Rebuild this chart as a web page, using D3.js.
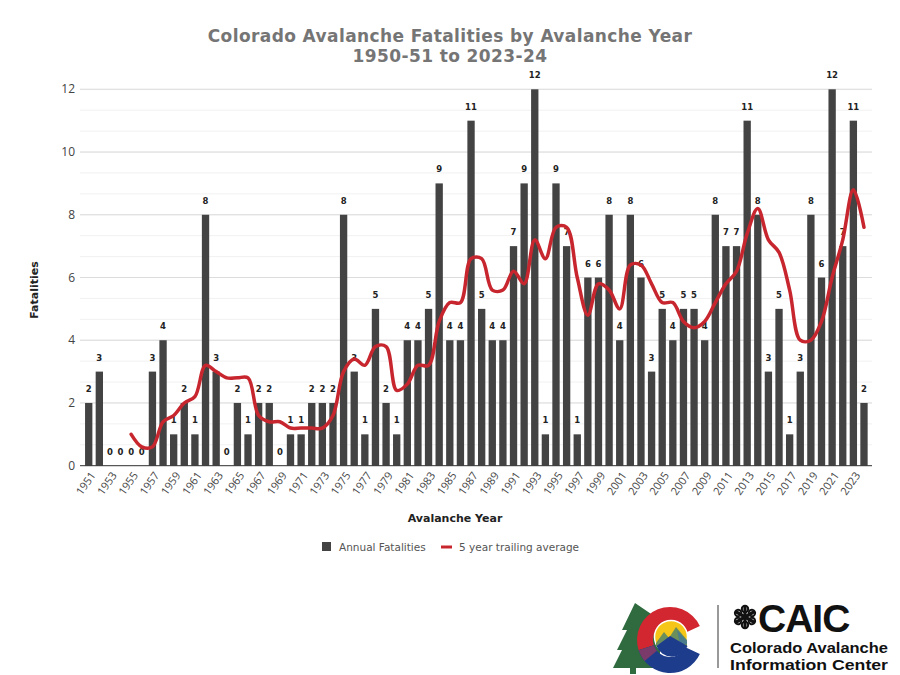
<!DOCTYPE html>
<html><head><meta charset="utf-8">
<script src="https://cdn.jsdelivr.net/npm/d3@7"></script>
<style>body{margin:0;background:#fff;} svg{display:block;}</style>
</head><body>
<svg id="chart" width="900" height="675"></svg>
<script>
const years = d3.range(1951, 2025);
const fatalities = [2,3,0,0,0,0,3,4,1,2,1,8,3,0,2,1,2,2,0,1,1,2,2,2,8,3,1,5,2,1,4,4,5,9,4,4,11,5,4,4,7,9,12,1,9,7,1,6,6,8,4,8,6,3,5,4,5,5,4,8,7,7,11,8,3,5,1,3,8,6,12,7,11,2];
const avgYears = d3.range(1955, 2025);
const trailingAvg = [1.0,0.6,0.6,1.4,1.6,2.0,2.2,3.2,3.0,2.8,2.8,2.8,1.6,1.4,1.4,1.2,1.2,1.2,1.2,1.6,3.0,3.4,3.2,3.8,3.8,2.4,2.6,3.2,3.2,4.6,5.2,5.2,6.6,6.6,5.6,5.6,6.2,5.8,7.2,6.6,7.6,7.6,6.0,4.8,5.8,5.6,5.0,6.4,6.4,5.8,5.2,5.2,4.6,4.4,4.6,5.2,5.8,6.2,7.4,8.2,7.2,6.8,5.6,4.0,4.0,4.6,6.0,7.2,8.8,7.6];
const yTicks = [0,2,4,6,8,10,12];
const titleLines = ["Colorado Avalanche Fatalities by Avalanche Year","1950-51 to 2023-24"];
const legendLabels = ["Annual Fatalities","5 year trailing average"];

const svg = d3.select("#chart");
const font = "'DejaVu Sans', Verdana, sans-serif";
const tickFont = "'Open Sans', 'DejaVu Sans', sans-serif";
const L = 80, R = 872, T = 89.3, B = 465.7;

const x = d3.scaleBand().domain(years).range([83.4, 869.3]).paddingInner(0.31).paddingOuter(0.155);
const y = d3.scaleLinear().domain([0,12]).range([B, T]);

// minor gridlines
const minor = d3.range(0, 12.001, 2/3);
svg.append("g").selectAll("line").data(minor).join("line")
  .attr("x1", L).attr("x2", R).attr("y1", d=>y(d)).attr("y2", d=>y(d))
  .attr("stroke", "#f1f1f1").attr("stroke-width", 1);
// major gridlines
svg.append("g").selectAll("line").data(yTicks.slice(1)).join("line")
  .attr("x1", L).attr("x2", R).attr("y1", d=>y(d)).attr("y2", d=>y(d))
  .attr("stroke", "#dcdcdc").attr("stroke-width", 1);

// y axis labels
svg.append("g").selectAll("text").data(yTicks).join("text")
  .attr("x", 75).attr("y", d=>y(d)+4).attr("text-anchor","end")
  .attr("font-family", tickFont).attr("font-size", 12).attr("fill", "#444").text(d=>d);

// bars
svg.append("g").selectAll("rect").data(years).join("rect")
  .attr("x", d=>x(d)).attr("width", x.bandwidth())
  .attr("y", (d,i)=>y(fatalities[i])).attr("height", (d,i)=>B - y(fatalities[i]))
  .attr("fill", "#434343");

// baseline
svg.append("line").attr("x1", L).attr("x2", R).attr("y1", B).attr("y2", B)
  .attr("stroke", "#333").attr("stroke-width", 1);

// value labels
svg.append("g").selectAll("text").data(years).join("text")
  .attr("x", d=>x(d)+x.bandwidth()/2).attr("y", (d,i)=>y(fatalities[i]) - 11)
  .attr("text-anchor","middle").attr("font-family", font).attr("font-weight","bold")
  .attr("font-size", 8.5).attr("fill", "#222").text((d,i)=>fatalities[i]);

// trailing average line
const line = d3.line().x((d,i)=>x(avgYears[i])+x.bandwidth()/2).y(d=>y(d)).curve(d3.curveCatmullRom.alpha(0.5));
svg.append("path").datum(trailingAvg).attr("d", line)
  .attr("fill","none").attr("stroke","#c8262e").attr("stroke-width",3.5)
  .attr("stroke-linejoin","round").attr("stroke-linecap","round");

// x tick labels (every other year)
svg.append("g").selectAll("text").data(years.filter((d,i)=>i%2===0)).join("text")
  .attr("transform", d=>`translate(${x(d)+x.bandwidth()/2+5},${B+8}) rotate(-55)`)
  .attr("text-anchor","end").attr("dominant-baseline","middle")
  .attr("font-family", tickFont).attr("font-size", 11).attr("fill", "#444").text(d=>d);

// axis titles
svg.append("text").attr("x", 455).attr("y", 522).attr("text-anchor","middle")
  .attr("font-family", font).attr("font-weight","bold").attr("font-size", 11).attr("fill","#222")
  .text("Avalanche Year");
svg.append("text").attr("transform","translate(38,290) rotate(-90)").attr("text-anchor","middle")
  .attr("font-family", font).attr("font-weight","bold").attr("font-size", 11).attr("fill","#222")
  .text("Fatalities");

// title
svg.append("g").selectAll("text").data(titleLines).join("text")
  .attr("x", 450).attr("y", (d,i)=>42 + i*19.5).attr("text-anchor","middle")
  .attr("font-family", font).attr("font-weight","bold").attr("font-size", 17).attr("letter-spacing", 0.4).attr("fill","#757575")
  .text(d=>d);

// legend
const lg = svg.append("g");
lg.append("rect").attr("x", 322).attr("y", 542).attr("width", 9).attr("height", 9).attr("fill", "#434343");
lg.append("text").attr("x", 339).attr("y", 551).attr("font-family", font).attr("font-size", 10.5).attr("fill","#555").text(legendLabels[0]);
lg.append("line").attr("x1", 441).attr("x2", 452).attr("y1", 547).attr("y2", 547).attr("stroke","#c8262e").attr("stroke-width",3);
lg.append("text").attr("x", 459).attr("y", 551).attr("font-family", font).attr("font-size", 10.5).attr("fill","#555").text(legendLabels[1]);

// logo
const logo = svg.append("g");
// tree
logo.append("path").attr("d","M635,603 L622,630 L627,630 L617,650 L622,650 L613,668 L660,668 L660,620 Z").attr("fill","#2f6b3f");
logo.append("rect").attr("x",630).attr("y",666).attr("width",6).attr("height",8).attr("fill","#2f6b3f");
// C ring
const arc = d3.arc();
const cC = "translate(670,640)";
logo.append("path").attr("transform",cC)
  .attr("d", arc({innerRadius:17, outerRadius:33, startAngle:0.36*Math.PI, endAngle:-0.6*Math.PI})).attr("fill","#d22630");
logo.append("path").attr("transform",cC)
  .attr("d", arc({innerRadius:17, outerRadius:33, startAngle:-0.6*Math.PI, endAngle:-1.36*Math.PI})).attr("fill","#1e3c8c");
logo.append("path").attr("transform",cC)
  .attr("d", arc({innerRadius:17, outerRadius:33, startAngle:-0.6*Math.PI, endAngle:-0.72*Math.PI})).attr("fill","#7a3a6a");
// inner circle
logo.append("circle").attr("cx",671).attr("cy",637).attr("r",16.5).attr("fill","#f5c518").attr("stroke","#fff").attr("stroke-width",1.5);
logo.append("path").attr("d","M656,643 L664,632 L669,638 L676,627 L687,640 L687,646 L656,646 Z").attr("fill","#6b8f5a");
logo.append("path").attr("d","M677,630 L687,641 L687,644 L680,644 Z").attr("fill","#4a7c8c");
logo.append("path").attr("d","M656.5,646 L670,636 L687.5,646 A16.5,16.5 0 0 1 656.5,646 Z").attr("fill","#1e3c8c");
// divider
logo.append("line").attr("x1",718).attr("x2",718).attr("y1",605).attr("y2",668).attr("stroke","#555").attr("stroke-width",1.2);
// snowflake
const sf = logo.append("g").attr("transform","translate(745,617)");
[0,60,120].forEach(a=>{
  sf.append("line").attr("x1",-11).attr("x2",11).attr("y1",0).attr("y2",0).attr("transform",`rotate(${a+90})`).attr("stroke","#111").attr("stroke-width",3.2);
});
[0,60,120,180,240,300].forEach(a=>{
  sf.append("circle").attr("cx",8).attr("cy",0).attr("r",3.2).attr("transform",`rotate(${a+90})`).attr("fill","none").attr("stroke","#111").attr("stroke-width",2);
});
logo.append("text").attr("x",758).attr("y",632).attr("font-family","'Liberation Sans', Arial, sans-serif").attr("font-weight","bold").attr("font-size",39).attr("fill","#111").attr("letter-spacing",-1).text("CAIC");
logo.append("text").attr("x",730).attr("y",653).attr("font-family","'Liberation Sans', Arial, sans-serif").attr("font-weight","bold").attr("font-size",15.5).attr("fill","#111").attr("textLength",158).attr("lengthAdjust","spacingAndGlyphs").text("Colorado Avalanche");
logo.append("text").attr("x",730).attr("y",670).attr("font-family","'Liberation Sans', Arial, sans-serif").attr("font-weight","bold").attr("font-size",15.5).attr("fill","#111").attr("textLength",158).attr("lengthAdjust","spacingAndGlyphs").text("Information Center");
</script>
</body></html>
